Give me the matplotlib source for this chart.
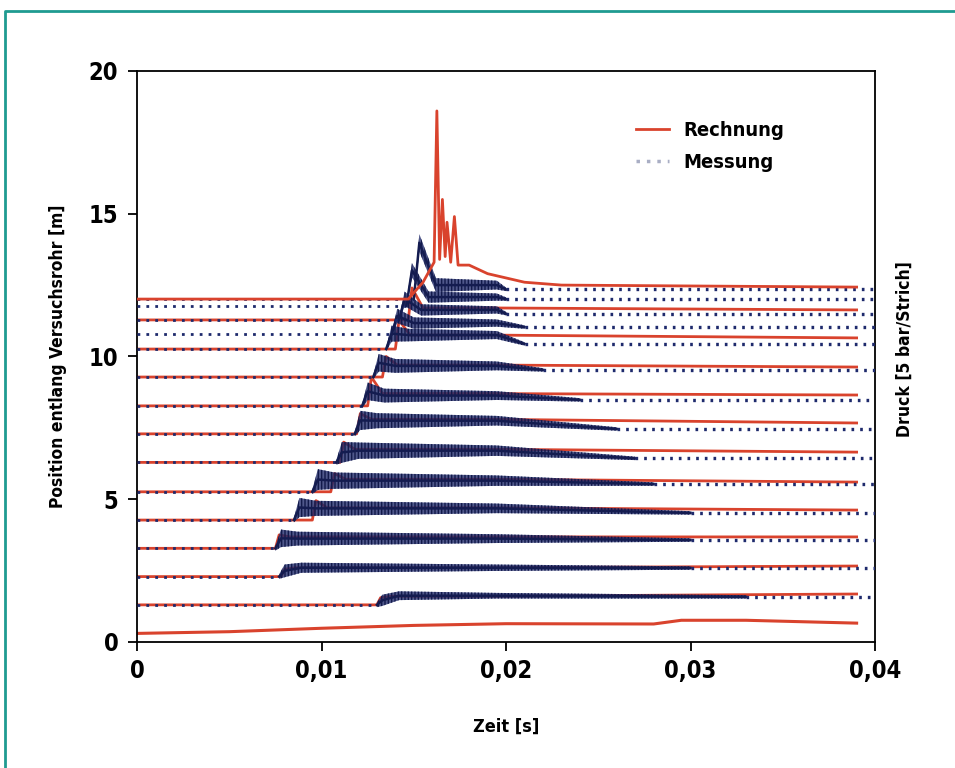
import matplotlib
matplotlib.use('Agg')
import matplotlib.pyplot as plt
from matplotlib.lines import Line2D

plt.rcParams['font.family'] = ['DejaVu Sans']
plt.rcParams['font.stretch'] = 'condensed'
plt.rcParams['font.weight'] = 'bold'
plt.rcParams['axes.labelweight'] = 'bold'
plt.rcParams['hatch.linewidth'] = 1.0

red = '#d9432d'
navy = '#1e2a6c'
teal = '#1f9b91'

xticks = [0, 0.01, 0.02, 0.03, 0.04]
xticklabels = ['0', '0,01', '0,02', '0,03', '0,04']
yticks = [0, 5, 10, 15, 20]
yticklabels = ['0', '5', '10', '15', '20']

# Rechnung: lowest trace, read point by point
calc0_t = [0, 0.005, 0.010, 0.015, 0.020, 0.028, 0.0295, 0.033, 0.039]
calc0_y = [0.30, 0.36, 0.48, 0.58, 0.64, 0.63, 0.76, 0.76, 0.66]

# Rechnung: highest trace with the pressure peak
calc_top_t = [0, 0.0147, 0.0155, 0.0161, 0.01625, 0.0164, 0.01655, 0.0167, 0.0168,
              0.0170, 0.0172, 0.0174, 0.0180, 0.0190, 0.0210, 0.0230, 0.039]
calc_top_y = [12.01, 12.01, 12.6, 13.3, 18.6, 13.4, 15.5, 13.5, 14.7,
              13.3, 14.9, 13.2, 13.2, 12.9, 12.6, 12.5, 12.43]

# Rechnung: the other traces (baseline, arrival time, peak, level at ~0.019 s, end)
calc_base = [1.30, 2.29, 3.28, 4.27, 5.26, 6.29, 7.29, 8.27, 9.28, 10.26, 11.28]
calc_arrival = [0.0130, 0.0078, 0.0075, 0.0095, 0.0105, 0.0110, 0.0119, 0.0125, 0.0133, 0.0140, 0.0147]
calc_peak = [1.55, 2.55, 3.75, 4.95, 5.90, 7.00, 8.00, 9.28, 10.00, 11.27, 12.40]
calc_mid = [1.60, 2.60, 3.68, 4.70, 5.70, 6.75, 7.80, 8.70, 9.70, 10.75, 11.70]
calc_end = [1.68, 2.66, 3.68, 4.62, 5.60, 6.65, 7.67, 8.65, 9.63, 10.65, 11.63]

# Messung: baseline, arrival, top of the front, level at ~0.019 s, end, noise, time noise fades
meas_base = [1.30, 2.29, 3.28, 4.27, 5.26, 6.29, 7.29, 8.27, 9.28, 10.26, 10.78, 11.28, 11.78, 12.01]
meas_arrival = [0.0130, 0.0077, 0.0075, 0.0085, 0.0095, 0.0108, 0.0118, 0.0122, 0.0128,
                0.0135, 0.0138, 0.0142, 0.0146, 0.0150]
meas_peak = [1.60, 2.65, 3.85, 4.95, 5.95, 6.90, 8.00, 9.00, 10.00, 11.00, 11.60, 12.20, 13.20, 14.20]
meas_mid = [1.62, 2.60, 3.62, 4.68, 5.65, 6.70, 7.75, 8.63, 9.67, 10.75, 11.17, 11.63, 12.08, 12.50]
meas_end = [1.58, 2.59, 3.57, 4.52, 5.53, 6.43, 7.46, 8.48, 9.53, 10.44, 11.03, 11.50, 12.01, 12.35]
meas_noise = [0.14, 0.16, 0.22, 0.24, 0.26, 0.26, 0.24, 0.22, 0.22, 0.20, 0.18, 0.18, 0.18, 0.22]
meas_quiet = [0.033, 0.030, 0.030, 0.030, 0.028, 0.027, 0.026, 0.024, 0.022,
              0.021, 0.021, 0.020, 0.020, 0.020]

fig = plt.figure(figsize=(9.55, 7.68), dpi=100)
ax = fig.add_axes([0.1435, 0.1641, 0.7728, 0.7435])

dots = (0, (1, 2.2))

# calculated traces
ax.plot(calc0_t, calc0_y, color=red, lw=2.2, zorder=2)
for b, ta, pk, md, en in zip(calc_base, calc_arrival, calc_peak, calc_mid, calc_end):
    ax.plot([0, ta, ta + 0.0002, ta + 0.0008, 0.019, 0.039],
            [b, b, pk, md, md, en], color=red, lw=2.0, zorder=2)
ax.plot(calc_top_t, calc_top_y, color=red, lw=2.0, zorder=4)

# measured traces: dotted before the wave, noisy band after it
for b, ta, pk, md, en, nz, tq in zip(meas_base, meas_arrival, meas_peak, meas_mid,
                                      meas_end, meas_noise, meas_quiet):
    ax.plot([0, ta], [b, b], color=navy, lw=2.0, ls=dots, zorder=3)
    tt = [ta, ta + 0.0003, ta + 0.0012, 0.0195, tq]
    mid_line = [b, pk - nz, md, md, en]
    half = [0.08, nz * 1.4, nz * 1.1, nz * 0.7, 0.06]
    hi = [m + h for m, h in zip(mid_line, half)]
    lo = [m - h for m, h in zip(mid_line, half)]
    ax.fill_between(tt, lo, hi, facecolor=(0.12, 0.16, 0.42, 0.78),
                    edgecolor='#121a4a', hatch='|||||', lw=0, zorder=3)
    ax.plot(tt, mid_line, color='#141c50', lw=1.8, zorder=3)
    ax.plot([tq, 0.0402], [en, en], color=navy, lw=2.4, ls=(0, (0.8, 1.8)), zorder=3)

ax.set_xlim(0, 0.04)
ax.set_ylim(0, 20)
ax.set_xticks(xticks)
ax.set_xticklabels(xticklabels)
ax.set_yticks(yticks)
ax.set_yticklabels(yticklabels)
ax.tick_params(direction='out', length=6.5, width=1.3, labelsize=17, pad=6)
ax.tick_params(axis='y', pad=7)
for s in ax.spines.values():
    s.set_linewidth(1.3)

ax.set_xlabel('Zeit [s]', fontsize=13)
ax.set_ylabel('Position entlang Versuchsrohr [m]', fontsize=12.5)
ax.xaxis.set_label_coords(0.5, -0.149)
ax.yaxis.set_label_coords(-0.107, 0.5)
ax.xaxis.label.set_va('center')
ax.yaxis.label.set_va('center')
fig.text(0.9476, 0.5456, 'Druck [5 bar/Strich]', rotation=90, fontsize=12.5,
         ha='center', va='center')

handles = [Line2D([], [], color=red, lw=2),
           Line2D([], [], color='#a9aec4', lw=2.5, ls=(0, (1, 2)))]
ax.legend(handles, ['Rechnung', 'Messung'], loc='upper left',
          bbox_to_anchor=(0.665, 0.926), frameon=False, fontsize=14.5,
          handlelength=1.65, handletextpad=0.72, labelspacing=0.64,
          borderaxespad=0)

# teal frame of the page
fig.add_artist(Line2D([0.0055, 0.0055, 1.0], [0.0, 0.986, 0.986],
                      color=teal, lw=2, transform=fig.transFigure))

fig.savefig('out.png', dpi=100)
